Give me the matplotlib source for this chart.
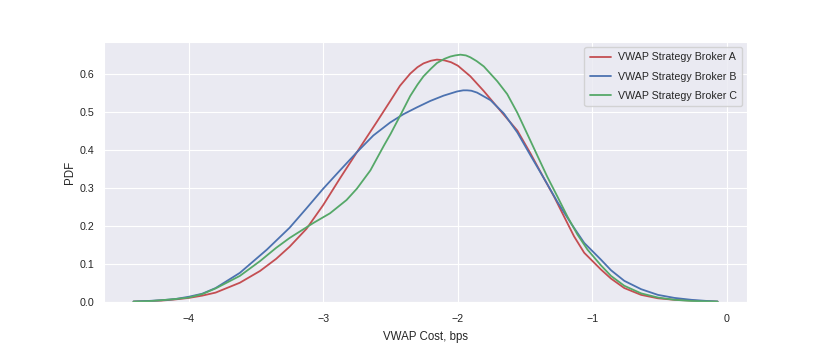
import matplotlib
matplotlib.use("Agg")
import matplotlib.pyplot as plt
import seaborn as sns

# values (VWAP cost in bps vs estimated density)
x_a = [-4.41, -4.3, -4.2, -4.1, -4.0, -3.9, -3.8, -3.62, -3.47, -3.35, -3.25, -3.125,
       -3.0, -2.876, -2.75, -2.6, -2.5, -2.43, -2.354, -2.3, -2.255, -2.2, -2.155, -2.1,
       -2.05, -2.0, -1.907, -1.807, -1.683, -1.558, -1.459, -1.36, -1.285, -1.21, -1.136,
       -1.061, -0.937, -0.862, -0.763, -0.638, -0.513, -0.39, -0.265, -0.15, -0.07]
pdf_a = [0.0004, 0.0015, 0.003, 0.006, 0.010, 0.016, 0.024, 0.050, 0.081, 0.113, 0.145, 0.192,
         0.255, 0.325, 0.394, 0.475, 0.530, 0.569, 0.601, 0.618, 0.628, 0.635, 0.638, 0.636,
         0.631, 0.622, 0.594, 0.555, 0.503, 0.451, 0.390, 0.325, 0.277, 0.224, 0.172,
         0.129, 0.085, 0.061, 0.036, 0.018, 0.009, 0.005, 0.003, 0.001, 0.0003]

x_b = [-4.41, -4.3, -4.2, -4.1, -4.0, -3.9, -3.8, -3.62, -3.42, -3.25, -3.125, -3.0,
       -2.876, -2.75, -2.628, -2.504, -2.405, -2.305, -2.205, -2.106, -2.006, -1.96, -1.931,
       -1.9, -1.857, -1.757, -1.658, -1.558, -1.459, -1.36, -1.26, -1.16, -1.061, -0.937,
       -0.862, -0.763, -0.638, -0.513, -0.39, -0.265, -0.15, -0.07]
pdf_b = [0.0005, 0.002, 0.004, 0.007, 0.013, 0.021, 0.036, 0.076, 0.137, 0.195, 0.246, 0.298,
         0.346, 0.394, 0.438, 0.472, 0.494, 0.512, 0.529, 0.543, 0.554, 0.557, 0.557,
         0.556, 0.551, 0.531, 0.496, 0.446, 0.385, 0.325, 0.263, 0.207, 0.155, 0.111,
         0.083, 0.055, 0.033, 0.018, 0.010, 0.005, 0.002, 0.0005]

x_c = [-4.41, -4.3, -4.2, -4.1, -4.0, -3.9, -3.8, -3.62, -3.47, -3.35, -3.25, -3.076,
       -2.95, -2.827, -2.75, -2.65, -2.55, -2.5, -2.429, -2.354, -2.3, -2.255, -2.2, -2.155,
       -2.1, -2.056, -2.02, -1.981, -1.94, -1.907, -1.86, -1.807, -1.707, -1.633, -1.558,
       -1.484, -1.409, -1.335, -1.26, -1.185, -1.111, -1.036, -0.937, -0.862, -0.763,
       -0.638, -0.513, -0.39, -0.265, -0.15, -0.07]
pdf_c = [0.0004, 0.0015, 0.004, 0.007, 0.011, 0.020, 0.035, 0.068, 0.107, 0.142, 0.168, 0.207,
         0.233, 0.268, 0.298, 0.346, 0.411, 0.442, 0.490, 0.542, 0.572, 0.594, 0.614, 0.629,
         0.640, 0.646, 0.649, 0.651, 0.649, 0.644, 0.634, 0.620, 0.581, 0.547, 0.498,
         0.442, 0.385, 0.329, 0.277, 0.224, 0.177, 0.137, 0.096, 0.068, 0.042,
         0.022, 0.011, 0.005, 0.002, 0.001, 0.0003]

labels = ["VWAP Strategy Broker A", "VWAP Strategy Broker B", "VWAP Strategy Broker C"]
colors = ["#C44E52", "#4C72B0", "#55A868"]

sns.set_style("darkgrid")
plt.rcParams["font.family"] = ["Liberation Sans", "DejaVu Sans"]
plt.rcParams["text.color"] = ".15"
plt.rcParams["axes.labelcolor"] = ".15"
plt.rcParams["xtick.color"] = ".15"
plt.rcParams["ytick.color"] = ".15"

fig = plt.figure(figsize=(8.3, 3.46), dpi=100)
ax = fig.add_axes([0.1257, 0.128, 0.774, 0.7497])

for xs, ys, lab, col in zip([x_a, x_b, x_c], [pdf_a, pdf_b, pdf_c], labels, colors):
    ax.plot(xs, ys, color=col, lw=1.3, label=lab)

ax.set_ylim(0, None)
ax.set_xticks([-4, -3, -2, -1, 0])
ax.tick_params(axis="both", labelsize=7.7, length=0)
ax.tick_params(axis="x", pad=9)
ax.tick_params(axis="y", pad=7)
ax.set_xlabel("VWAP Cost, bps", fontsize=8.3, labelpad=5)
ax.set_ylabel("PDF", fontsize=8.3, labelpad=3)

ax.legend(loc="upper right", fontsize=7.7, frameon=True, fancybox=True,
          facecolor="#EAEAF2", edgecolor="0.8", framealpha=0.8,
          handlelength=2.0, handletextpad=0.6, labelspacing=0.85,
          borderpad=0.5, borderaxespad=0.45)

fig.savefig("out.png", dpi=100)
